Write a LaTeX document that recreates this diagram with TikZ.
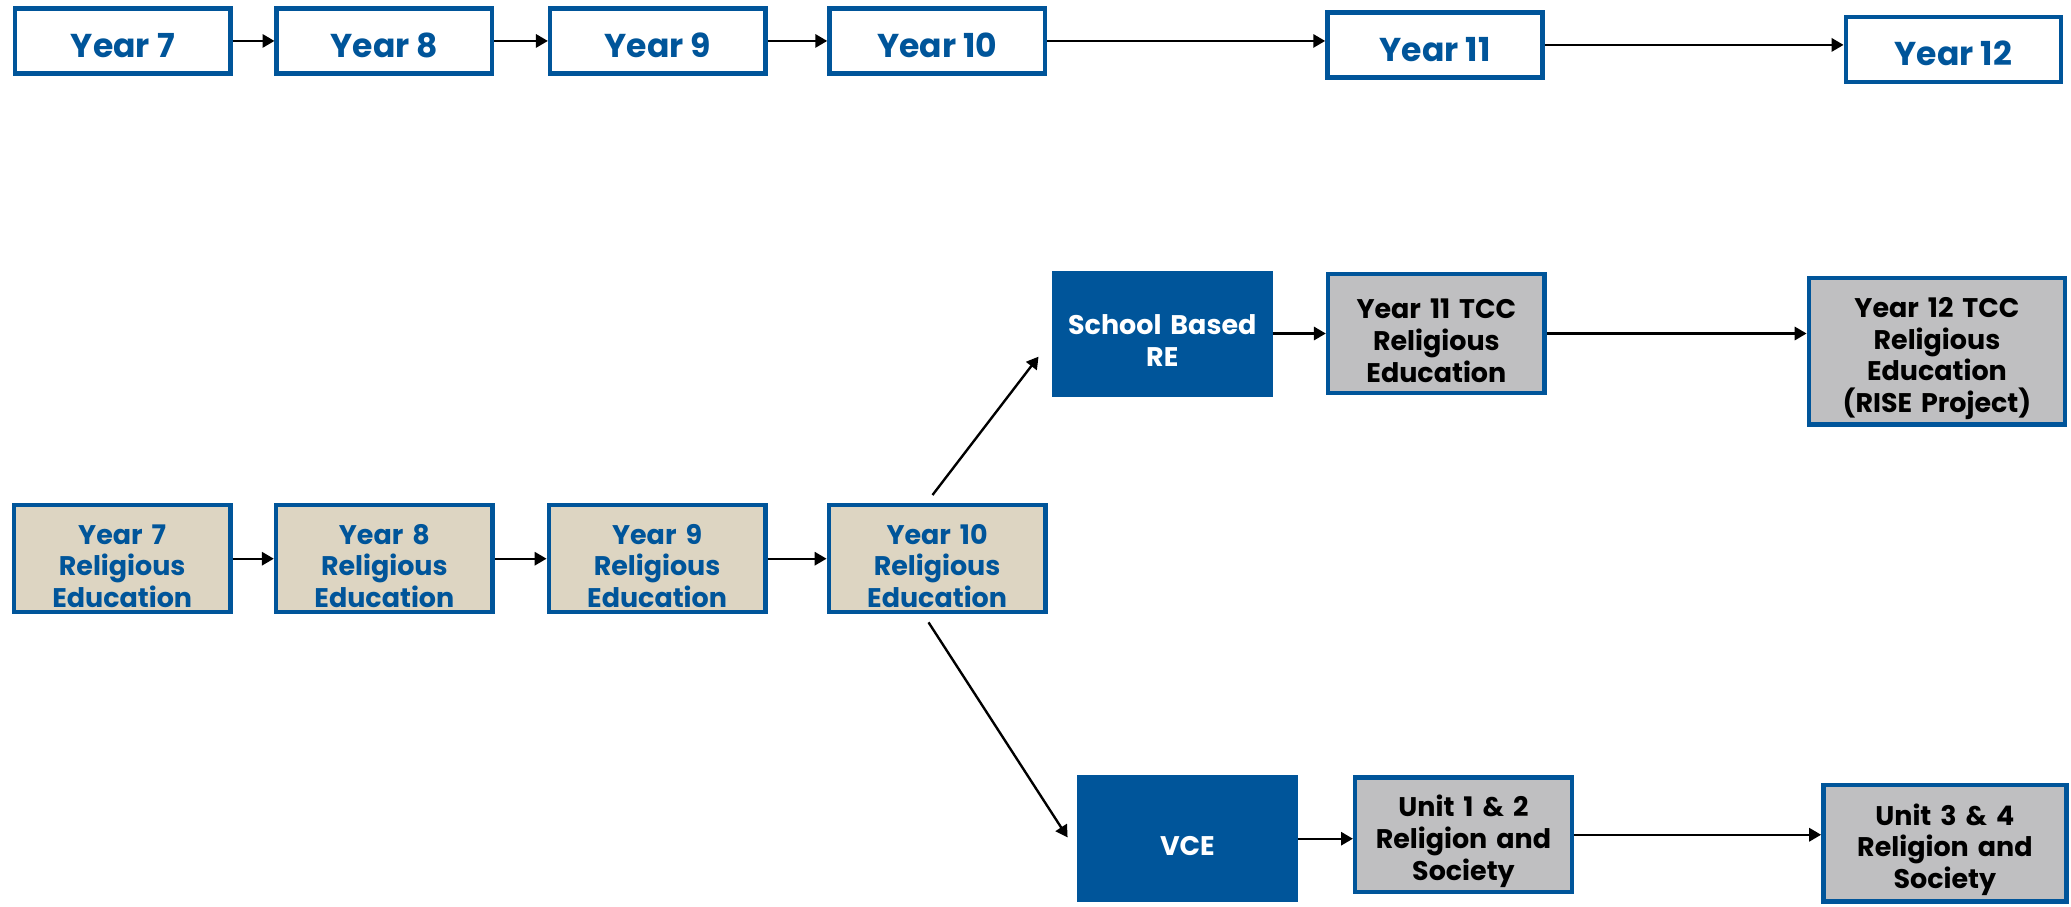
\documentclass[tikz,border=0pt]{standalone}
\usepackage{fontspec}
\setmainfont{Poppins}
\usetikzlibrary{arrows.meta,calc}
\definecolor{reblue}{HTML}{00559A}
\definecolor{rebeige}{HTML}{DDD5C2}
\definecolor{regrey}{HTML}{BFBFC1}
\tikzset{
	yearbox/.style={draw=reblue, line width=1.7pt, fill=white, text=reblue,
		font=\fontsize{12.5}{14}\selectfont\bfseries, minimum width=81.5pt,
		minimum height=24.5pt, inner sep=0pt,
		execute at begin node={\rule{0pt}{12.5pt}}},
	rebox/.style={draw=reblue, line width=1.7pt, fill=rebeige, text=reblue,
		font=\fontsize{10.2}{12}\selectfont\bfseries, text width=78pt, align=center,
		minimum width=82pt, minimum height=40.5pt, inner sep=0pt,
		execute at begin node={\rule{0pt}{13pt}}},
	tccbox/.style={rebox, fill=regrey, text=black},
	pathbox/.style={rebox, fill=reblue, text=white},
	link/.style={-{Triangle[length=4.5pt,width=5pt]}, line width=0.9pt}
}
\begin{document}
\begin{tikzpicture}[x=0.5pt, y=-0.5pt]
	\useasboundingbox (0,0) rectangle (1568,686);
	\foreach \X/\Y/\N in {93/31/7, 291/31/8, 498/31/9, 709.5/31/10,
		1086.5/34/11, 1479/37.5/12}
	{\node[yearbox] (y\N) at (\X,\Y) {Year \N};}
	\foreach \A/\B in {7/8, 8/9, 9/10, 10/11, 11/12}
	{\draw[link] (y\A.east) -- (y\A.east -| y\B.west);}
	\foreach \X/\N in {92.5/7, 291/8, 497.5/9, 709.5/10}
	{\node[rebox] (r\N) at (\X,423) {Year \N\\Religious\\Education};}
	\foreach \A/\B in {7/8, 8/9, 9/10}
	{\draw[link] (r\A.east) -- (r\A.east -| r\B.west);}
	\node[pathbox, minimum height=46pt] (sb) at (880,252.5) {School Based\\RE};
	\node[tccbox, minimum height=45pt] (t11) at (1087.5,252.5) {Year 11 TCC\\Religious\\Education};
	\node[tccbox, minimum width=97pt, minimum height=55.5pt] (t12) at (1466.5,266)
		{Year 12 TCC\\Religious\\Education\\(RISE Project)};
	\node[pathbox, minimum height=46.5pt] (vce) at (899,635) {VCE};
	\node[tccbox, minimum height=43.5pt] (u12) at (1108,632) {Unit 1 \& 2\\Religion and\\Society};
	\node[tccbox, minimum width=92pt, minimum height=44pt] (u34) at (1472.5,638.5)
		{Unit 3 \& 4\\Religion and\\Society};
	\draw[link] ($(r10.north)+(-3.5,-6)$) -- ($(sb.west)+(-10,17.5)$);
	\draw[link] ($(r10.south)+(-6.5,6)$) -- ($(vce.west)+(-7,-1)$);
	\draw[link] (sb.east) -- (sb.east -| t11.west);
	\draw[link] (t11.east) -- (t11.east -| t12.west);
	\draw[link] (vce.east) -- (vce.east -| u12.west);
	\draw[link] (u12.east) -- (u12.east -| u34.west);
\end{tikzpicture}
\end{document}
